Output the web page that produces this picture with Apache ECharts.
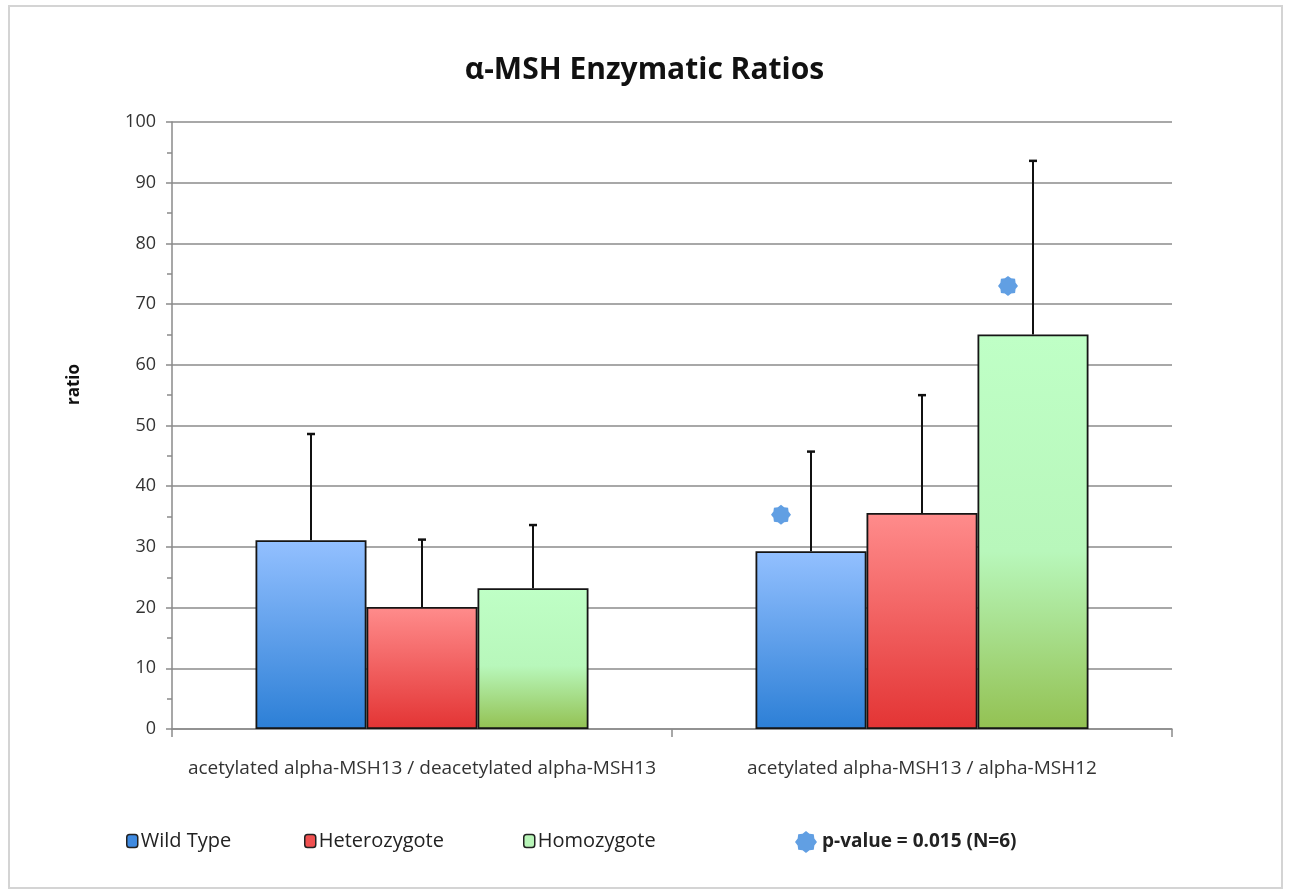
<!DOCTYPE html>
<html>
<head>
<meta charset="utf-8">
<script src="https://cdn.jsdelivr.net/npm/echarts@6/dist/echarts.min.js"></script>
<style>
html,body{margin:0;padding:0;background:#fff;}
#chart{position:absolute;left:0;top:0;width:1289px;height:896px;}
#frame{position:absolute;left:8px;top:5px;width:1271px;height:880px;border:2px solid #d4d4d4;pointer-events:none;}
</style>
</head>
<body>
<div id="chart"></div>
<div id="frame"></div>
<script>
// ---- data ----
const categories = ['acetylated alpha-MSH13 / deacetylated alpha-MSH13', 'acetylated alpha-MSH13 / alpha-MSH12'];
const seriesNames = ['Wild Type', 'Heterozygote', 'Homozygote'];
const wildType = [31.1, 29.3];
const heterozygote = [20.1, 35.6];
const homozygote = [23.2, 65.0];
const wildTypeErrTop = [48.6, 45.7];
const heterozygoteErrTop = [31.2, 55.0];
const homozygoteErrTop = [33.6, 93.6];
// significance markers: [position along category axis (0..2), ratio]
const pValueMarks = [[1.218, 35.3], [1.672, 73.0]];
const pValueLabel = 'p-value = 0.015 (N=6)';
const yTicks = {min: 0, max: 100, interval: 10};

const values = [wildType, heterozygote, homozygote];
const errTops = [wildTypeErrTop, heterozygoteErrTop, homozygoteErrTop];

const fills = [
  new echarts.graphic.LinearGradient(0, 0, 0, 1, [{offset: 0, color: '#93c0ff'}, {offset: 1, color: '#2c7fd6'}]),
  new echarts.graphic.LinearGradient(0, 0, 0, 1, [{offset: 0, color: '#ff8c8c'}, {offset: 1, color: '#e33434'}]),
  new echarts.graphic.LinearGradient(0, 0, 0, 1, [{offset: 0, color: '#bfffc6'}, {offset: 0.55, color: '#b8f7bb'}, {offset: 1, color: '#93c152'}])
];
const legendColors = ['#3f8ae0', '#f05050', '#b8f5b8'];

// 8-lobed star symbol
function starPath(n, ro, ri) {
  let d = '';
  for (let i = 0; i < 2 * n; i++) {
    const r = i % 2 === 0 ? ro : ri;
    const a = Math.PI * i / n - Math.PI / 2;
    d += (i === 0 ? 'M' : 'L') + (50 + r * Math.cos(a)).toFixed(2) + ',' + (50 + r * Math.sin(a)).toFixed(2);
  }
  return 'path://' + d + 'Z';
}
const starSymbol = starPath(8, 50, 41);

const BAR_PCT = 0.222;
const series = [];
seriesNames.forEach((name, i) => {
  series.push({
    name: name,
    type: 'bar',
    data: values[i],
    barWidth: (BAR_PCT * 100) + '%',
    barGap: '0%',
    itemStyle: {color: fills[i], borderColor: '#151515', borderWidth: 1.8},
    emphasis: {disabled: true},
    z: 2
  });
});
seriesNames.forEach((name, i) => {
  series.push({
    name: name + ' err',
    type: 'custom',
    z: 5,
    data: categories.map((c, k) => [k, values[i][k], errTops[i][k]]),
    renderItem: function (params, api) {
      const k = api.value(0);
      const base = api.coord([k, api.value(1)]);
      const top = api.coord([k, api.value(2)]);
      const band = api.size([1, 0])[0];
      const bw = band * BAR_PCT;
      const x = base[0] + (i - 1) * bw;
      return {
        type: 'group',
        children: [
          {type: 'line', shape: {x1: x, y1: base[1], x2: x, y2: top[1]}, style: {stroke: '#111', lineWidth: 2}},
          {type: 'line', shape: {x1: x - 4, y1: top[1], x2: x + 4, y2: top[1]}, style: {stroke: '#111', lineWidth: 2.5}}
        ]
      };
    }
  });
});
series.push({
  name: pValueLabel,
  type: 'scatter',
  xAxisIndex: 1,
  data: pValueMarks,
  symbol: starSymbol,
  symbolSize: 20,
  itemStyle: {color: '#3a87dc'},
  z: 6
});

const legendLefts = [121, 299, 518];
const legends = seriesNames.map((n, i) => ({
  data: [{name: n, itemStyle: {color: legendColors[i]}}],
  left: legendLefts[i], top: 826,
  icon: 'roundRect', itemWidth: 11, itemHeight: 13, itemGap: 4,
  itemStyle: {borderColor: '#222', borderWidth: 1.5},
  textStyle: {fontFamily: 'Open Sans', fontSize: 20, color: '#222', padding: [0, 0, 0, -2]},
  selectedMode: false
}));
legends.push({
  data: [pValueLabel],
  left: 790, top: 826,
  icon: starSymbol, itemWidth: 22, itemHeight: 24, 
  textStyle: {fontFamily: 'Open Sans', fontSize: 19, fontWeight: 'bold', color: '#222'},
  selectedMode: false
});

const option = {
  animation: false,
  backgroundColor: '#fff',
  title: {
    text: 'α-MSH Enzymatic Ratios',
    left: 'center', top: 50,
    textStyle: {fontFamily: 'Open Sans', fontSize: 30, fontWeight: 'bold', color: '#111'}
  },
  graphic: [{
    type: 'text', left: 66, top: 364, rotation: Math.PI / 2,
    style: {text: 'ratio', fontFamily: 'Open Sans', fontSize: 17, fontWeight: 'bold', fill: '#111'}
  }],
  legend: legends,
  grid: {left: 172, right: 117, top: 122, bottom: 167},
  xAxis: [
    {
      type: 'category', data: categories,
      axisLine: {lineStyle: {color: '#8a8a8a', width: 1.5}},
      axisTick: {show: true, length: 8, lineStyle: {color: '#8a8a8a', width: 1.5}},
      axisLabel: {interval: 0, fontFamily: 'Open Sans', fontSize: 19, color: '#333', margin: 30}
    },
    {type: 'value', min: 0, max: 2, show: false}
  ],
  yAxis: {
    type: 'value', min: yTicks.min, max: yTicks.max, interval: yTicks.interval,
    axisLine: {show: true, lineStyle: {color: '#8a8a8a', width: 1.5}},
    axisTick: {show: true, length: 6, lineStyle: {color: '#8a8a8a', width: 1.5}},
    minorTick: {show: true, splitNumber: 2, length: 5, lineStyle: {color: '#8a8a8a', width: 1.5}},
    axisLabel: {fontFamily: 'Open Sans', fontSize: 18, color: '#333', margin: 16},
    splitLine: {show: true, lineStyle: {color: '#a8a8a8', width: 2}}
  },
  series: series
};

const chart = echarts.init(document.getElementById('chart'), null, {renderer: 'canvas'});
chart.setOption(option);
</script>
</body>
</html>
